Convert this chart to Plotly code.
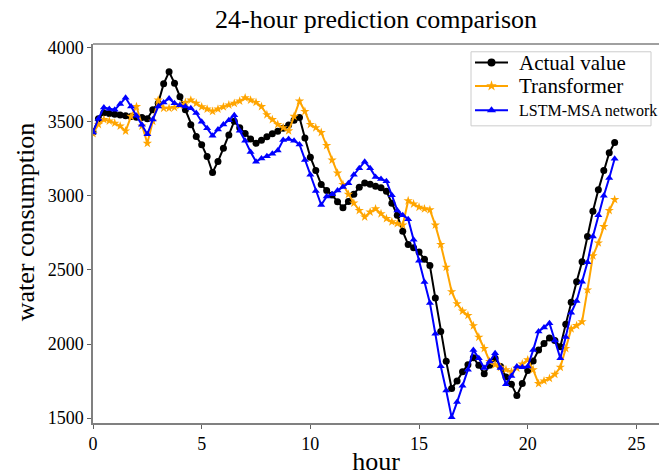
import plotly.graph_objects as go

hours = [k / 4 for k in range(97)]

actual = [3430, 3520, 3560, 3555, 3550, 3545, 3540, 3535, 3530, 3528,
          3520, 3580, 3625, 3755, 3836, 3760, 3668, 3580, 3480, 3400,
          3345, 3265, 3157, 3232, 3320, 3410, 3503, 3459, 3420, 3383,
          3354, 3375, 3398, 3418, 3435, 3455, 3478, 3510, 3528, 3390,
          3260, 3170, 3076, 3035, 3005, 2960, 2920, 2962, 3010, 3058,
          3087, 3078, 3065, 3054, 3030, 2950, 2868, 2760, 2671, 2649,
          2620, 2572, 2529, 2310, 2084, 1883, 1700, 1751, 1812, 1860,
          1908, 1856, 1799, 1856, 1904, 1849, 1777, 1729, 1652, 1733,
          1821, 1886, 1959, 2003, 2040, 2024, 1981, 2134, 2282, 2420,
          2555, 2726, 2895, 3040, 3170, 3290, 3360]

transformer = [3420, 3481, 3514, 3505, 3490, 3470, 3437, 3536, 3602, 3470,
               3354, 3503, 3646, 3591, 3591, 3596, 3610, 3630, 3646, 3624,
               3600, 3585, 3570, 3585, 3600, 3613, 3624, 3639, 3661, 3646,
               3630, 3602, 3547, 3514, 3481, 3459, 3438, 3536, 3639, 3569,
               3481, 3459, 3427, 3339, 3241, 3153, 3076, 3010, 2951, 2901,
               2857, 2890, 2912, 2879, 2846, 2824, 2812, 2802, 2967, 2945,
               2923, 2912, 2905, 2802, 2671, 2518, 2353, 2272, 2222, 2193,
               2123, 2046, 1970, 1882, 1860, 1843, 1827, 1812, 1838, 1865,
               1893, 1827, 1733, 1751, 1768, 1795, 1843, 1970, 2102, 2124,
               2150, 2365, 2595, 2682, 2792, 2901, 2974]

lstm_msa = [3427, 3520, 3595, 3586, 3580, 3620, 3661, 3602, 3540, 3480,
            3415, 3514, 3602, 3630, 3657, 3624, 3610, 3602, 3590, 3558,
            3500, 3455, 3405, 3448, 3481, 3510, 3543, 3438, 3372, 3295,
            3230, 3252, 3266, 3284, 3306, 3376, 3383, 3372, 3346, 3241,
            3142, 3032, 2938, 2995, 3010, 3035, 3060, 3085, 3142, 3186,
            3230, 3186, 3127, 3113, 3098, 3004, 2901, 2868, 2842, 2704,
            2562, 2419, 2277, 2069, 1850, 1686, 1505, 1608, 1718, 1827,
            1959, 1904, 1838, 1882, 1937, 1838, 1729, 1784, 1849, 1843,
            1849, 1959, 2084, 2112, 2140, 2024, 1904, 2047, 2210, 2290,
            2420, 2551, 2726, 2869, 3000, 3120, 3250]

series_names = ["Actual value", "Transformer", "LSTM-MSA network"]
series_colors = ["black", "#FFA500", "#0000FF"]
series_symbols = ["circle", "star", "triangle-up"]
legend_font_sizes = [21, 21, 16]

x_ticks = [0, 5, 10, 15, 20, 25]
y_ticks = [1500, 2000, 2500, 3000, 3500, 4000]

SERIF = "Liberation Serif, Times New Roman, serif"

# plot area in pixels
W, H = 659, 476
L, R, T, B = 93, 659, 44, 433
PW, PH = R - L, B - T


def px(xp):
    return (xp - L) / PW


def py(yp):
    return (B - yp) / PH


fig = go.Figure()
for name, col, sym, vals in zip(series_names, series_colors, series_symbols,
                                [actual, transformer, lstm_msa]):
    fig.add_trace(go.Scatter(
        x=hours, y=vals, mode="lines+markers", name=name, showlegend=False,
        line=dict(color=col, width=2),
        marker=dict(symbol=sym, size=7, color=col)))

axis_common = dict(
    showgrid=False, zeroline=False, showline=True, linecolor="#808080",
    linewidth=1.5, ticks="outside", ticklen=4, tickcolor="#606060",
    tickwidth=1, tickfont=dict(family=SERIF, size=18, color="black"),
)

fig.update_layout(
    width=W, height=H,
    margin=dict(l=L, r=W - R, t=T, b=H - B),
    paper_bgcolor="white", plot_bgcolor="rgba(0,0,0,0)",
    title=dict(text="24-hour prediction comparison",
               font=dict(family=SERIF, size=26, color="black"),
               x=0.5, xref="paper", xanchor="center",
               y=1 - 19 / H, yref="container", yanchor="middle"),
    xaxis=dict(range=[0, 26.04], tickvals=x_ticks,
               title=dict(text="hour", font=dict(family=SERIF, size=26, color="black"),
                          standoff=3),
               **axis_common),
    yaxis=dict(range=[1467, 4024], tickvals=y_ticks, **axis_common),
    # overlay pixel-space axes for the legend glyphs
    xaxis2=dict(overlaying="x", range=[L, R], visible=False),
    yaxis2=dict(overlaying="y", range=[B, T], visible=False),
    showlegend=False,
)

# top spine
fig.add_shape(type="line", xref="paper", yref="paper", x0=0, x1=1, y0=1, y1=1,
              line=dict(color="#808080", width=1.5))

# y-axis title
fig.add_annotation(text="water consumption", xref="paper", yref="paper",
                   x=px(25), y=py(227), textangle=-90, showarrow=False,
                   xanchor="center", yanchor="middle",
                   font=dict(family=SERIF, size=26, color="black"))

# manual legend (matplotlib-like)
leg_x0, leg_x1, leg_y0, leg_y1 = 471, 651, 52, 128
fig.add_shape(type="rect", xref="paper", yref="paper",
              x0=px(leg_x0), x1=px(leg_x1), y0=py(leg_y1), y1=py(leg_y0),
              line=dict(color="#cccccc", width=1), fillcolor="white", layer="below")
row_y = [63, 87, 112]
seg_x0, seg_x1, txt_x = 475, 508, 517
for name, col, sym, fs, ry in zip(series_names, series_colors, series_symbols,
                                  legend_font_sizes, row_y):
    fig.add_trace(go.Scatter(
        x=[seg_x0, seg_x1], y=[ry, ry], xaxis="x2", yaxis="y2", mode="lines",
        line=dict(color=col, width=2), hoverinfo="skip", showlegend=False,
        cliponaxis=False))
    fig.add_trace(go.Scatter(
        x=[(seg_x0 + seg_x1) / 2], y=[ry], xaxis="x2", yaxis="y2", mode="markers",
        marker=dict(symbol=sym, size=8, color=col), hoverinfo="skip",
        showlegend=False, cliponaxis=False))
    fig.add_annotation(text=name, xref="paper", yref="paper",
                       x=px(txt_x), y=py(ry), xanchor="left", yanchor="middle",
                       showarrow=False,
                       font=dict(family=SERIF, size=fs, color="black"))

fig.write_html("out.html")
